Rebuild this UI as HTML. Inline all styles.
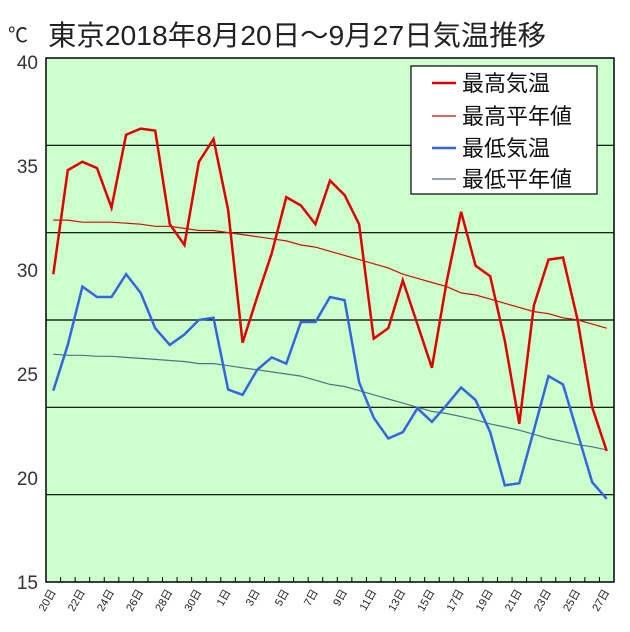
<!DOCTYPE html>
<html><head><meta charset="utf-8"><style>
body{margin:0;background:#fff;}
svg{display:block;font-family:"Liberation Sans","Noto Sans CJK JP",sans-serif;}
</style></head><body>
<svg id="chart" width="630" height="632" xmlns="http://www.w3.org/2000/svg">
<text x="8" y="42" font-size="20" fill="#222">℃</text>
<text x="48" y="45" font-size="28" fill="#222" textLength="498" lengthAdjust="spacingAndGlyphs">東京2018年8月20日～9月27日気温推移</text>
<rect x="46" y="58" width="568" height="524" fill="#ccffcc" stroke="#000" stroke-width="1.5"/>
<g id="grid"></g><g id="yticks"></g><g id="xticks"></g><g id="series"></g>
<g>
<rect x="411" y="66" width="186" height="128" fill="#fff" stroke="#000" stroke-width="1.2"/>
<line x1="432" y1="83" x2="456" y2="83" stroke="#dd0000" stroke-width="2.5"/>
<text x="462" y="91" font-size="22" fill="#111">最高気温</text>
<line x1="432" y1="116" x2="456" y2="116" stroke="#cc1100" stroke-width="1.2"/>
<text x="462" y="124" font-size="22" fill="#111">最高平年値</text>
<line x1="432" y1="148" x2="456" y2="148" stroke="#3366dd" stroke-width="2.5"/>
<text x="462" y="156" font-size="22" fill="#111">最低気温</text>
<line x1="432" y1="179" x2="456" y2="179" stroke="#556677" stroke-width="1.2"/>
<text x="462" y="187" font-size="22" fill="#111">最低平年値</text>
</g>
</svg>
<script>
const dayLabels=["20","21","22","23","24","25","26","27","28","29","30","31","1","2","3","4","5","6","7","8","9","10","11","12","13","14","15","16","17","18","19","20","21","22","23","24","25","26","27"];
const maxTemp=[29.8,34.8,35.2,34.9,33.0,36.5,36.8,36.7,32.2,31.2,35.2,36.3,32.9,26.5,28.7,30.8,33.5,33.1,32.2,34.3,33.6,32.2,26.7,27.2,29.5,27.4,25.3,29.4,32.8,30.2,29.7,26.6,22.6,28.3,30.5,30.6,27.6,23.4,21.3];
const maxNormal=[32.4,32.4,32.3,32.3,32.3,32.25,32.2,32.1,32.1,32.0,31.9,31.9,31.8,31.7,31.6,31.5,31.4,31.2,31.1,30.9,30.7,30.5,30.3,30.1,29.8,29.6,29.4,29.2,28.9,28.8,28.6,28.4,28.2,28.0,27.9,27.7,27.6,27.4,27.2];
const minTemp=[24.2,26.4,29.2,28.7,28.7,29.8,28.9,27.2,26.4,26.9,27.6,27.7,24.25,24.0,25.2,25.8,25.5,27.5,27.5,28.7,28.55,24.6,22.9,21.9,22.2,23.35,22.7,23.5,24.35,23.75,22.2,19.65,19.75,22.3,24.9,24.5,22.15,19.8,19.0];
const minNormal=[25.95,25.9,25.9,25.85,25.85,25.8,25.75,25.7,25.65,25.6,25.5,25.5,25.4,25.3,25.2,25.1,25.0,24.9,24.7,24.5,24.4,24.2,24.0,23.8,23.6,23.4,23.2,23.1,22.95,22.8,22.6,22.45,22.3,22.1,21.9,21.75,21.6,21.5,21.35];
const yTicks=[15,20,25,30,35,40];
const NS="http://www.w3.org/2000/svg";
const L=46,R=614,T=58,B=582;
const step=(R-L)/dayLabels.length;
function xs(i){return L+step*(i+0.5);}
function ys(v){return 582-(v-15)*20.8;}
function mk(tag,attrs,parent){const e=document.createElementNS(NS,tag);for(const k in attrs)e.setAttribute(k,attrs[k]);parent.appendChild(e);return e;}
const grid=document.getElementById('grid');
for(let k=1;k<6;k++){const y=T+(B-T)*k/6;
 const g=mk('line',{x1:L,x2:R,y1:y,y2:y,stroke:'#000','stroke-width':1.2},grid);
 
 }
const yt=document.getElementById('yticks');
yTicks.forEach(v=>{const t=mk('text',{x:38,y:ys(v)+7,'font-size':19,'text-anchor':'end',fill:'#333'},yt);t.textContent=v;
 
 });
const xt=document.getElementById('xticks');
dayLabels.forEach((d,i)=>{const x=L+step*(i+1);
 if(i<dayLabels.length-1){const tk=mk('line',{x1:x,x2:x,y1:B,y2:B-5,stroke:'#000','stroke-width':1},xt);
 
 }
 if(i%2===0){const cx=xs(i)+3,cy=B+10;
  const t=mk('text',{x:cx,y:cy,'font-size':11,'text-anchor':'end',fill:'#222',transform:`rotate(-60 ${cx} ${cy})`},xt);
  t.textContent=d+'日';
  
  }
});
const sg=document.getElementById('series');
function line(arr,color,w,name){const pts=arr.map((v,i)=>xs(i).toFixed(1)+','+ys(v).toFixed(1)).join(' ');
 const p=mk('polyline',{points:pts,fill:'none',stroke:color,'stroke-width':w,'stroke-linejoin':'miter'},sg);
 
 }
line(maxNormal,'#cc1100',1.2,'max-normal-line');
line(minNormal,'#4f7383',1.2,'min-normal-line');
line(maxTemp,'#dd0000',2.5,'max-temp-line');
line(minTemp,'#3366dd',2.5,'min-temp-line');
</script>
</body></html>
